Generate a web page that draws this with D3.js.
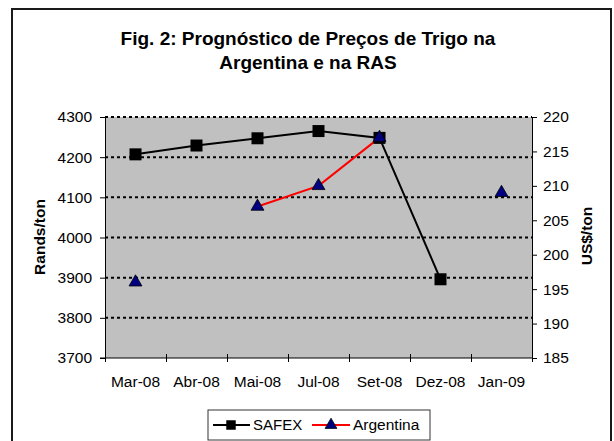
<!DOCTYPE html>
<head>
  <meta charset="utf-8">
  <script src="https://d3js.org/d3.v7.min.js"></script>
  <style>
    body { margin:0; background:#fff; }
    text { font-family: "Liberation Sans", Arial, sans-serif; fill:#000; }
    .grid { stroke:#000; stroke-width:2px; stroke-dasharray:3,3; }
    .axis path, .axis line { stroke:#000; stroke-width:1px; }
  </style>
</head>
<body>
  <script>
    // chart data
    var months = ["Mar-08", "Abr-08", "Mai-08", "Jul-08", "Set-08", "Dez-08", "Jan-09"];
    var safex = [4207, 4229, 4247, 4265, 4248, 3896, null];          // Rands/ton
    var argentina = [196, null, 207, 210, 217, null, 209];           // US$/ton
    var leftTicks = [3700, 3800, 3900, 4000, 4100, 4200, 4300];
    var rightTicks = [185, 190, 195, 200, 205, 210, 215, 220];

    var svg = d3.select("body")
      .append("svg")
      .attr("width", 614)
      .attr("height", 441);

    // outer frame
    svg.append("rect")
      .attr("x", 12).attr("y", 9)
      .attr("width", 599).attr("height", 445)
      .attr("fill", "#fff")
      .attr("stroke", "#1a1a1a")
      .attr("stroke-width", 2);

    svg.append("text")
      .attr("x", 308).attr("y", 45)
      .attr("text-anchor", "middle")
      .style("font-size", "19px").style("font-weight", "bold")
      .text("Fig. 2: Prognóstico de Preços de Trigo na");
    svg.append("text")
      .attr("x", 308).attr("y", 69)
      .attr("text-anchor", "middle")
      .style("font-size", "19px").style("font-weight", "bold")
      .text("Argentina e na RAS");

    var pLeft = 105, pRight = 532, pTop = 117, pBottom = 358;

    var x = d3.scaleBand().domain(months).range([pLeft, pRight]).paddingInner(0);
    var xEdge = d3.scaleLinear().domain([0, months.length]).range([pLeft, pRight]);
    var y = d3.scaleLinear().domain([3700, 4300]).range([pBottom, pTop]);
    var y2 = d3.scaleLinear().domain([185, 220]).range([pBottom, pTop]);

    svg.append("rect")
      .attr("x", pLeft).attr("y", pTop)
      .attr("width", pRight - pLeft).attr("height", pBottom - pTop)
      .attr("fill", "#c0c0c0");

    svg.selectAll(".grid").data(leftTicks.slice(1)).enter()
      .append("line")
      .attr("class", "grid")
      .attr("x1", pLeft).attr("x2", pRight)
      .attr("y1", function(d) { return y(d); })
      .attr("y2", function(d) { return y(d); });

    // left axis
    var gl = svg.append("g")
      .attr("class", "axis")
      .attr("transform", "translate(" + pLeft + ",0)")
      .call(d3.axisLeft(y).tickValues(leftTicks).tickSizeInner(5).tickSizeOuter(0).tickPadding(8).tickFormat(d3.format("d")));
    gl.selectAll("text").style("font-size", "15.5px");

    // right axis
    var gr = svg.append("g")
      .attr("class", "axis")
      .attr("transform", "translate(" + pRight + ",0)")
      .call(d3.axisRight(y2).tickValues(rightTicks).tickSizeInner(5).tickSizeOuter(0).tickPadding(6));
    gr.selectAll("text").style("font-size", "15.5px");

    // bottom axis, ticks between categories
    var gb = svg.append("g")
      .attr("class", "axis")
      .attr("transform", "translate(0," + pBottom + ")")
      .call(d3.axisBottom(xEdge).tickValues(d3.range(months.length + 1)).tickSizeOuter(0).tickFormat(""));
    gb.selectAll(".tick line").attr("y1", -4).attr("y2", 4);
    gb.select(".domain").attr("d", "M" + (pLeft - 5) + ",0H" + pRight);

    var gx = svg.append("g")
      .attr("transform", "translate(0," + pBottom + ")")
      .call(d3.axisBottom(x).tickSize(0).tickPadding(18));
    gx.select(".domain").remove();
    gx.selectAll("text").style("font-size", "15.5px");

    var cx = function(i) { return x(months[i]) + x.bandwidth() / 2; };

    var safexLine = d3.line()
      .defined(function(d) { return d != null; })
      .x(function(d, i) { return cx(i); })
      .y(function(d) { return y(d); });
    var argLine = d3.line()
      .defined(function(d) { return d != null; })
      .x(function(d, i) { return cx(i); })
      .y(function(d) { return y2(d); });

    svg.append("path")
      .datum(safex)
      .attr("fill", "none").attr("stroke", "#000").attr("stroke-width", 2)
      .attr("d", safexLine);

    svg.append("path")
      .datum(argentina)
      .attr("fill", "none").attr("stroke", "#ff0000").attr("stroke-width", 2)
      .attr("d", argLine);

    var square = d3.symbol().type(d3.symbolSquare).size(144);
    var tri = d3.symbol().type(d3.symbolTriangle).size(72);

    safex.forEach(function(d, i) {
      if (d == null) return;
      svg.append("path")
        .attr("d", square)
        .attr("transform", "translate(" + cx(i) + "," + y(d) + ")")
        .attr("fill", "#000");
    });

    argentina.forEach(function(d, i) {
      if (d == null) return;
      svg.append("path")
        .attr("d", tri)
        .attr("transform", "translate(" + cx(i) + "," + y2(d) + ")")
        .attr("fill", "#000080")
        .attr("stroke", "#000").attr("stroke-width", 0.8);
    });

    // legend
    var lg = svg.append("g");
    lg.append("rect")
      .attr("x", 208).attr("y", 410)
      .attr("width", 222).attr("height", 30)
      .attr("fill", "#fff").attr("stroke", "#333").attr("stroke-width", 1);
    lg.append("line").attr("x1", 213).attr("x2", 250).attr("y1", 425).attr("y2", 425)
      .attr("stroke", "#000").attr("stroke-width", 2);
    lg.append("path").attr("d", d3.symbol().type(d3.symbolSquare).size(90))
      .attr("transform", "translate(231,425)").attr("fill", "#000");
    lg.append("text").attr("x", 253).attr("y", 430).style("font-size", "15px").text("SAFEX");
    lg.append("line").attr("x1", 312).attr("x2", 350).attr("y1", 425).attr("y2", 425)
      .attr("stroke", "#ff0000").attr("stroke-width", 2);
    lg.append("path").attr("d", d3.symbol().type(d3.symbolTriangle).size(60))
      .attr("transform", "translate(331,425)").attr("fill", "#000080")
      .attr("stroke", "#000").attr("stroke-width", 0.8);
    lg.append("text").attr("x", 353).attr("y", 430).style("font-size", "15.5px").text("Argentina");

    // axis titles
    svg.append("text")
      .attr("transform", "translate(45,237) rotate(-90)")
      .attr("text-anchor", "middle")
      .style("font-size", "15.5px").style("font-weight", "bold")
      .text("Rands/ton");
    svg.append("text")
      .attr("transform", "translate(592,236) rotate(-90)")
      .attr("text-anchor", "middle")
      .style("font-size", "15.5px").style("font-weight", "bold")
      .text("US$/ton");
  </script>
</body>
